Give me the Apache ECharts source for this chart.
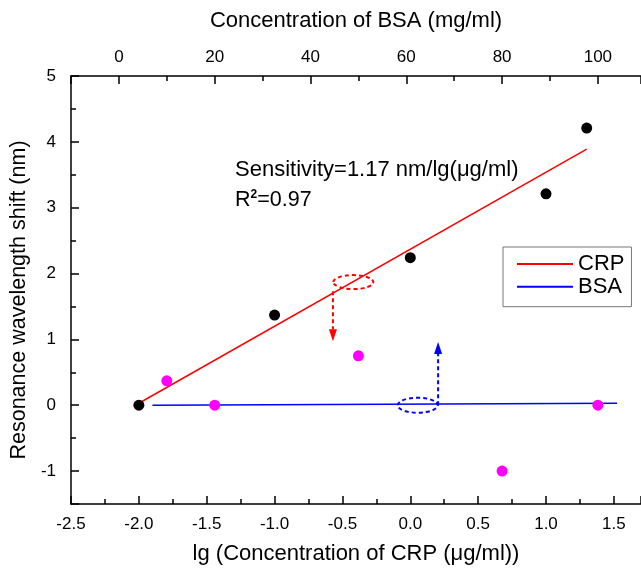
<!DOCTYPE html>
<html>
<head>
<meta charset="utf-8">
<script src="https://cdn.jsdelivr.net/npm/echarts@6/dist/echarts.min.js"></script>
<style>
  html, body { margin: 0; padding: 0; background: #fff; }
  #chart { width: 641px; height: 570px; }
</style>
</head>
<body>
<div id="chart"></div>
<script>
// CRP: lg(concentration, µg/ml) vs resonance wavelength shift (nm)
const crpLg = [-2.0, -1.0, 0.0, 1.0, 1.3];
const crpShift = [0.0, 1.37, 2.24, 3.21, 4.21];
// Linear fit of the CRP response (slope 1.17 nm/lg(µg/ml))
const crpFitX = [-2.0, 1.3];
const crpFitY = [0.03, 3.89];

// BSA: concentration (mg/ml) vs resonance wavelength shift (nm)
const bsaConc = [10, 20, 50, 80, 100];
const bsaShift = [0.37, 0.0, 0.75, -1.0, 0.0];
const bsaFitX = [7, 104];
const bsaFitY = [0.0, 0.03];

// Dashed markers pointing each fit line to its axis
const crpMarker = { center: [-0.42, 1.87], from: [-0.57, 1.73], to: [-0.57, 0.97] };
const bsaMarker = { center: [0.055, 0.0], from: [0.205, 0.0], to: [0.205, 0.96] };

const FONT = "'Liberation Sans', Arial, sans-serif";
const pairs = (xs, ys) => xs.map((x, i) => [x, ys[i]]);

const chart = echarts.init(document.getElementById('chart'), null, { renderer: 'canvas' });

const axisLineStyle = { color: '#000', width: 1.5 };
const majorTick = { inside: true, length: 8, lineStyle: { color: '#000', width: 1.5 } };
const minorTick = { show: true, splitNumber: 2, length: 5, lineStyle: { color: '#000', width: 1.5 } };
const tickFont = { color: '#000', fontSize: 17, fontFamily: FONT };
const titleFont = { color: '#000', fontSize: 22, fontFamily: FONT };

chart.setOption({
  animation: false,
  backgroundColor: '#fff',
  grid: { left: 70, top: 76, right: 0, bottom: 65, containLabel: false },
  xAxis: [
    {
      type: 'value', position: 'bottom',
      min: -2.5, max: 1.7, interval: 0.5,
      splitLine: { show: false },
      axisLine: { onZero: false, lineStyle: axisLineStyle },
      axisTick: majorTick,
      minorTick: minorTick,
      axisLabel: Object.assign({ margin: 12, showMaxLabel: false, formatter: v => v.toFixed(1) }, tickFont),
      name: 'lg (Concentration of CRP (μg/ml))',
      nameLocation: 'middle', nameGap: 39,
      nameTextStyle: titleFont
    },
    {
      type: 'value', position: 'top',
      min: -10, max: 109, splitNumber: 6,
      splitLine: { show: false },
      axisLine: { onZero: false, lineStyle: axisLineStyle },
      axisTick: majorTick,
      minorTick: minorTick,
      axisLabel: Object.assign({ margin: 10, showMinLabel: false, showMaxLabel: false }, tickFont),
      name: 'Concentration of BSA (mg/ml)',
      nameLocation: 'middle', nameGap: 44,
      nameTextStyle: titleFont
    }
  ],
  yAxis: {
    type: 'value',
    min: -1.5, max: 5, splitNumber: 5,
    splitLine: { show: false },
    axisLine: { onZero: false, lineStyle: axisLineStyle },
    axisTick: majorTick,
    minorTick: minorTick,
    axisLabel: Object.assign({ margin: 15, showMinLabel: false }, tickFont),
    name: 'Resonance wavelength shift (nm)',
    nameLocation: 'middle', nameGap: 33, nameRotate: 90,
    nameTextStyle: Object.assign({}, titleFont, { fontSize: 21.5, padding: [0, 20, 0, 0] })
  },
  legend: {
    data: ['CRP', 'BSA'],
    orient: 'vertical',
    left: 503, top: 247,
    icon: 'rect', itemWidth: 56, itemHeight: 2, itemGap: 0.7,
    padding: [6, 7, 9, 14],
    borderColor: '#777', borderWidth: 1,
    textStyle: { color: '#000', fontSize: 22, fontFamily: FONT, lineHeight: 20 }
  },
  graphic: [
    {
      type: 'text', left: 235, top: 159, z: 10,
      style: {
        text: 'Sensitivity=1.17 nm/lg(μg/ml)',
        fontSize: 22, fontFamily: FONT, fill: '#000'
      }
    },
    {
      type: 'text', left: 235, top: 189, z: 10,
      style: {
        rich: {
          b: { fontSize: 21.5, fontFamily: FONT, fill: '#000' },
          s: { fontSize: 12, fontFamily: FONT, fontWeight: 'bold', fill: '#000', verticalAlign: 'top', padding: [0, 0, 9, 0] }
        },
        text: '{b|R}{s|2}{b|=0.97}'
      }
    }
  ],
  series: [
    {
      name: 'CRP', type: 'line', xAxisIndex: 0,
      data: pairs(crpFitX, crpFitY),
      showSymbol: false, symbol: 'none',
      lineStyle: { color: '#ff0000', width: 1.5 }, itemStyle: { color: '#ff0000' }, z: 2
    },
    {
      name: 'BSA', type: 'line', xAxisIndex: 1,
      data: pairs(bsaFitX, bsaFitY),
      showSymbol: false, symbol: 'none',
      lineStyle: { color: '#0000ff', width: 1.5 }, itemStyle: { color: '#0000ff' }, z: 2
    },
    {
      name: 'CRP data', type: 'scatter', xAxisIndex: 0,
      data: pairs(crpLg, crpShift),
      symbol: 'circle', symbolSize: 11,
      itemStyle: { color: '#000', opacity: 1 }, z: 3
    },
    {
      name: 'BSA data', type: 'scatter', xAxisIndex: 1,
      data: pairs(bsaConc, bsaShift),
      symbol: 'circle', symbolSize: 11,
      itemStyle: { color: '#ff00ff', opacity: 1 }, z: 3
    }
  ]
});

// Dashed ellipse + dashed arrow markers, positioned through the bottom/left axes
function marker(m, color, rx, ry) {
  const toPx = p => chart.convertToPixel({ xAxisIndex: 0, yAxisIndex: 0 }, p);
  const c = toPx(m.center);
  const a = toPx(m.from);
  const b = toPx(m.to);
  const dir = b[1] > a[1] ? 1 : -1;
  const headLen = 12, headHalf = 4;
  const baseY = b[1] - dir * headLen;
  const dash = { stroke: color, lineWidth: 2, lineDash: [4, 3], fill: null };
  return [
    { type: 'ellipse', z: 5, shape: { cx: c[0], cy: c[1], rx: rx, ry: ry }, style: dash },
    { type: 'line', z: 5, shape: { x1: a[0], y1: a[1], x2: b[0], y2: baseY }, style: dash },
    {
      type: 'polygon', z: 5,
      shape: { points: [[b[0], b[1]], [b[0] - headHalf, baseY], [b[0] + headHalf, baseY]] },
      style: { fill: color, stroke: null }
    }
  ];
}

const extra = marker(crpMarker, '#ff0000', 20, 7).concat(marker(bsaMarker, '#0000ff', 20, 7.5));
const current = chart.getOption().graphic[0].elements.map(e => ({ id: e.id }));
chart.setOption({ graphic: current.concat(extra) });
</script>
</body>
</html>
